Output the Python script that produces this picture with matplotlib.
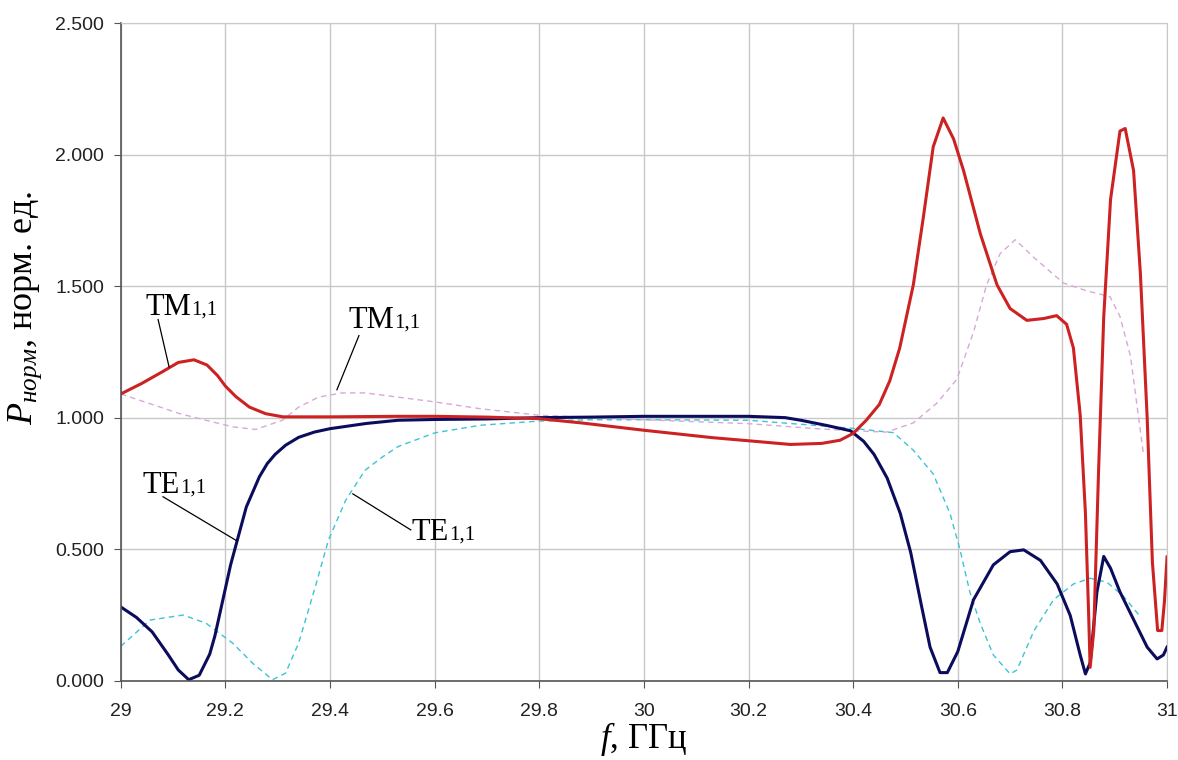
import matplotlib
matplotlib.use("Agg")
import matplotlib.pyplot as plt
from matplotlib.ticker import FormatStrFormatter, MultipleLocator

# mathtext in Times-like serif so Cyrillic works in sub/superscripts
plt.rcParams['mathtext.fontset'] = 'custom'
plt.rcParams['mathtext.rm'] = 'Liberation Serif'
plt.rcParams['mathtext.it'] = 'Liberation Serif:italic'

# TE1,1 (сплошная, тёмно-синяя)
te_f = [29.0, 29.03, 29.06, 29.09, 29.11, 29.13, 29.15, 29.17, 29.18, 29.19,
        29.2, 29.21, 29.225, 29.24, 29.265, 29.28, 29.295, 29.315, 29.34, 29.37,
        29.4, 29.47, 29.53, 29.6, 29.7, 29.8, 29.9, 30.0, 30.1, 30.2,
        30.27, 30.3, 30.35, 30.395, 30.42, 30.44, 30.465, 30.49, 30.51, 30.53,
        30.547, 30.566, 30.58, 30.6, 30.63, 30.668, 30.7, 30.726, 30.758, 30.79,
        30.815, 30.834, 30.844, 30.853, 30.866, 30.879, 30.892, 30.91, 30.936, 30.962,
        30.981, 30.993, 31.0]
te_p = [0.28, 0.24, 0.185, 0.10, 0.04, 0.003, 0.02, 0.10, 0.17, 0.26,
        0.35, 0.44, 0.55, 0.66, 0.775, 0.825, 0.86, 0.895, 0.925, 0.945,
        0.958, 0.978, 0.99, 0.993, 0.995, 1.0, 1.002, 1.005, 1.005, 1.005,
        1.0, 0.99, 0.97, 0.95, 0.91, 0.86, 0.77, 0.636, 0.487, 0.29,
        0.127, 0.03, 0.03, 0.11, 0.307, 0.44, 0.49, 0.497, 0.457, 0.367,
        0.247, 0.097, 0.025, 0.067, 0.337, 0.472, 0.427, 0.337, 0.232, 0.127,
        0.082, 0.097, 0.127]

# TM1,1 (сплошная, красная)
tm_f = [29.0, 29.04, 29.08, 29.11, 29.14, 29.165, 29.185, 29.2, 29.22, 29.246,
        29.277, 29.31, 29.4, 29.53, 29.6, 29.7, 29.8, 29.88, 30.0, 30.13,
        30.2, 30.28, 30.34, 30.375, 30.4, 30.425, 30.45, 30.47, 30.489, 30.515,
        30.534, 30.553, 30.572, 30.592, 30.611, 30.643, 30.675, 30.7, 30.732, 30.764,
        30.789, 30.808, 30.821, 30.834, 30.844, 30.85, 30.853, 30.86, 30.869, 30.879,
        30.892, 30.91, 30.92, 30.936, 30.949, 30.962, 30.972, 30.982, 30.99, 30.995,
        31.0]
tm_p = [1.09, 1.13, 1.175, 1.21, 1.22, 1.2, 1.16, 1.12, 1.08, 1.04,
        1.015, 1.003, 1.003, 1.005, 1.005, 1.002, 0.996, 0.98, 0.952, 0.924,
        0.912, 0.898, 0.902, 0.914, 0.94, 0.99, 1.05, 1.14, 1.265, 1.505,
        1.76, 2.03, 2.14, 2.06, 1.94, 1.70, 1.505, 1.415, 1.37, 1.377,
        1.388, 1.355, 1.265, 1.01, 0.636, 0.26, 0.05, 0.19, 0.79, 1.385,
        1.83, 2.09, 2.10, 1.94, 1.55, 1.0, 0.45, 0.19, 0.19, 0.3,
        0.47]

# TE1,1 (пунктир, голубой)
te2_f = [29.0, 29.056, 29.119, 29.163, 29.214, 29.252, 29.29, 29.315, 29.34, 29.372,
         29.397, 29.43, 29.467, 29.5, 29.53, 29.6, 29.687, 29.8, 29.9, 30.0,
         30.2, 30.33, 30.395, 30.477, 30.515, 30.553, 30.585, 30.604, 30.623, 30.643,
         30.668, 30.7, 30.713, 30.745, 30.783, 30.821, 30.853, 30.885, 30.917, 30.95]
te2_p = [0.13, 0.23, 0.249, 0.218, 0.142, 0.066, 0.003, 0.028, 0.142, 0.357,
         0.534, 0.686, 0.8, 0.85, 0.89, 0.942, 0.971, 0.987, 0.992, 0.992,
         0.99, 0.97, 0.96, 0.943, 0.876, 0.786, 0.636, 0.50, 0.337, 0.217,
         0.097, 0.025, 0.04, 0.187, 0.307, 0.367, 0.389, 0.374, 0.32, 0.24]

# TM1,1 (пунктир, розовый)
tm2_f = [29.0, 29.056, 29.113, 29.163, 29.214, 29.258, 29.309, 29.34, 29.378, 29.423,
         29.467, 29.53, 29.6, 29.687, 29.8, 30.0, 30.2, 30.33, 30.4, 30.464,
         30.515, 30.56, 30.598, 30.63, 30.655, 30.681, 30.71, 30.745, 30.802, 30.847,
         30.891, 30.91, 30.93, 30.955]
tm2_p = [1.09, 1.053, 1.015, 0.99, 0.965, 0.955, 0.99, 1.04, 1.078, 1.094,
         1.094, 1.078, 1.06, 1.034, 1.009, 0.992, 0.977, 0.958, 0.95, 0.945,
         0.98, 1.055, 1.145, 1.325, 1.505, 1.624, 1.677, 1.61, 1.512, 1.482,
         1.46, 1.385, 1.235, 0.86]

fig = plt.figure(figsize=(11.78, 7.60), dpi=100)
ax = fig.add_axes([0.1025, 0.1046, 0.8882, 0.8647])

ax.plot(te2_f, te2_p, color='#3cc4d4', lw=1.0, ls=(0, (4, 3)))
ax.plot(tm2_f, tm2_p, color='#d8a8d8', lw=1.0, ls=(0, (4, 3)))
ax.plot(te_f, te_p, color='#0c0c5c', lw=2.2)
ax.plot(tm_f, tm_p, color='#cc2222', lw=2.2)

ax.set_xlim(29, 31)
ax.set_ylim(0, 2.5)
ax.xaxis.set_major_locator(MultipleLocator(0.2))
ax.yaxis.set_major_locator(MultipleLocator(0.5))
ax.yaxis.set_major_formatter(FormatStrFormatter('%.3f'))
ax.xaxis.set_major_formatter(plt.FuncFormatter(lambda v, p: f'{v:g}'))
ax.grid(True, color='#c8c8c8', lw=1)
ax.set_axisbelow(True)
for s in ['top', 'right']:
    ax.spines[s].set_color('#c8c8c8')
for s in ['left', 'bottom']:
    ax.spines[s].set_color('#555555')
    ax.spines[s].set_linewidth(1.2)
ax.tick_params(direction='out', length=5, color='#555555', labelsize=14,
               labelcolor='#222222', labelfontfamily='Liberation Sans')
ax.tick_params(axis='x', pad=11)
ax.tick_params(axis='y', pad=7)

ax.set_ylabel(r'$P_{\mathit{норм}}$, норм. ед.', fontfamily='Liberation Serif', fontsize=26)
ax.yaxis.set_label_coords(-0.073, 0.568)
ax.set_xlabel(r'$f$, ГГц', fontfamily='Liberation Serif', fontsize=25, labelpad=0)


def mode_label(x, y, name, xline, yline):
    # подпись вида TM + "1,1" мелким шрифтом на той же базовой линии
    ax.text(x, y, name, fontfamily='Liberation Serif', fontsize=22,
            ha='right', va='baseline', color='black')
    ax.text(x, y, '1,1', fontfamily='Liberation Serif', fontsize=15,
            ha='left', va='baseline', color='black')
    ax.plot(xline, yline, color='black', lw=0.9)


mode_label(29.1345, 1.392, 'TM', [29.0714, 29.0924], [1.373, 1.193])
mode_label(29.522, 1.342, 'TM', [29.4553, 29.4132], [1.312, 1.106])
mode_label(29.113, 0.714, 'TE', [29.0808, 29.2222], [0.699, 0.531])
mode_label(29.627, 0.535, 'TE', [29.4436, 29.5544], [0.710, 0.573])

fig.savefig('out.png', dpi=100)
